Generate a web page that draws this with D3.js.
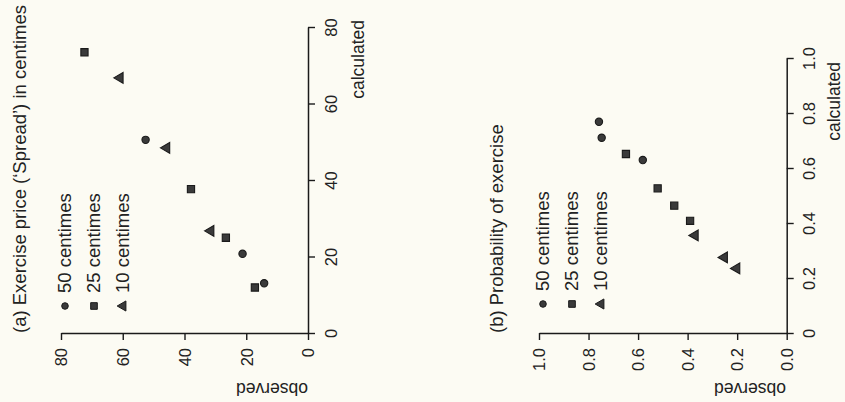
<!DOCTYPE html>
<html><head><meta charset="utf-8">
<script src="https://cdn.jsdelivr.net/npm/d3@7"></script>
<style>
html,body{margin:0;padding:0;background:#fcfbf3;}
svg{display:block;}
text{font-family:"Liberation Sans",Arial,Helvetica,sans-serif;fill:#222;}
</style></head>
<body>
<svg id="chart" width="845" height="402"></svg>
<script>
// ---- data ----
const seriesNames = ["50 centimes", "25 centimes", "10 centimes"];
const symbolsBySeries = ["circle", "square", "triangle"];

// Panel (a): exercise price (spread), observed vs calculated
const spreadObs50 = [52.6, 21.2, 14.2];
const spreadCalc50 = [50.5, 20.7, 13.0];
const spreadObs25 = [72.4, 37.9, 26.6, 17.2];
const spreadCalc25 = [73.4, 37.6, 24.9, 11.9];
const spreadObs10 = [60.9, 45.8, 31.5];
const spreadCalc10 = [66.7, 48.4, 26.7];
const spreadTicks = [0, 20, 40, 60, 80];

// Panel (b): probability of exercise, observed vs calculated
const probObs50 = [0.758, 0.747, 0.581];
const probCalc50 = [0.768, 0.710, 0.629];
const probObs25 = [0.649, 0.521, 0.454, 0.390];
const probCalc25 = [0.651, 0.526, 0.463, 0.408];
const probObs10 = [0.370, 0.252, 0.202];
const probCalc10 = [0.355, 0.275, 0.235];
const probTicks = [0, 0.2, 0.4, 0.6, 0.8, 1.0];

const titles = ["(a) Exercise price (\u2018Spread\u2019) in centimes", "(b) Probability of exercise"];
const xLabel = "calculated";
const yLabel = "observed";

// ---- drawing ----
const svg = d3.select("#chart");
const ink = "#1a1a1a";

const symGen = {
  circle: d3.symbol().type(d3.symbolCircle).size(42),
  square: d3.symbol().type(d3.symbolSquare).size(52),
  triangle: d3.symbol().type(d3.symbolTriangle).size(50)
};

function panel(cfg) {
  const g = svg.append("g");
  // observed runs right-to-left horizontally; calculated runs bottom-to-top
  const xs = d3.scaleLinear().domain(cfg.domain).range([cfg.obsZero, cfg.obsMax]);
  const ys = d3.scaleLinear().domain(cfg.domain).range([cfg.calcZero, cfg.calcMax]);

  // observed axis (bottom)
  const ax = g.append("g").attr("transform", `translate(0,${cfg.calcZero})`)
    .call(d3.axisBottom(xs).tickValues(cfg.ticks).tickSize(7).tickSizeOuter(0).tickFormat(cfg.fmt));
  ax.selectAll("text")
    .attr("x", 0).attr("y", 0).attr("dy", "0.35em")
    .attr("text-anchor", "end")
    .attr("transform", "translate(0,15) rotate(-90)")
    .style("font-size", "16.5px");

  // calculated axis (right)
  const ay = g.append("g").attr("transform", `translate(${cfg.obsZero},0)`)
    .call(d3.axisRight(ys).tickValues(cfg.ticks).tickSize(7).tickSizeOuter(0)
      .tickFormat(d => d === 0 ? "0" : cfg.fmt(d)));
  ay.selectAll("text")
    .attr("x", 0).attr("y", 0).attr("dy", "0.35em")
    .attr("text-anchor", "middle")
    .attr("transform", "translate(23,0) rotate(-90)")
    .style("font-size", "16.5px");

  [ax, ay].forEach(a => {
    a.selectAll("path, line").attr("stroke", ink).attr("stroke-width", 1.4);
    a.select(".domain").attr("stroke-width", 1.5);
    a.attr("font-family", null).attr("font-size", null);
  });

  // axis labels
  g.append("text").text(xLabel)
    .attr("text-anchor", "end").attr("dy", "0.35em")
    .attr("transform", `translate(${cfg.obsZero + cfg.xLabOff},${cfg.calcMax + cfg.xLabDy}) rotate(-90)`)
    .style("font-size", "17.5px");
  g.append("text").text(yLabel)
    .attr("text-anchor", "middle").attr("dy", "0.35em")
    .attr("transform", `translate(${cfg.yLabX},${cfg.calcZero + 56}) rotate(180)`)
    .style("font-size", "17.5px");

  // title
  g.append("text").text(cfg.title)
    .attr("text-anchor", "start").attr("dy", "0.35em")
    .attr("transform", `translate(${cfg.titleX},${cfg.calcZero}) rotate(-90)`)
    .style("font-size", "18.5px");

  // points
  cfg.series.forEach((s, i) => {
    const sym = symbolsBySeries[i];
    s.obs.forEach((o, j) => {
      g.append("path")
        .attr("d", symGen[sym]())
        .attr("transform", `translate(${xs(o)},${ys(s.calc[j])})` + (sym === "triangle" ? " rotate(-90)" : ""))
        .attr("fill", "#3a3a3a").attr("stroke", ink).attr("stroke-width", 1.1);
    });
  });

  // legend
  seriesNames.forEach((name, i) => {
    const lx = cfg.legX + i * 29;
    const sym = symbolsBySeries[i];
    g.append("path")
      .attr("d", d3.symbol().type(sym === "circle" ? d3.symbolCircle : sym === "square" ? d3.symbolSquare : d3.symbolTriangle)
        .size(sym === "circle" ? 34 : 44)())
      .attr("transform", `translate(${lx},${cfg.legSymY})` + (sym === "triangle" ? " rotate(-90)" : ""))
      .attr("fill", "#3a3a3a").attr("stroke", ink).attr("stroke-width", 1);
    g.append("text").text(name)
      .attr("text-anchor", "start").attr("dy", "0.35em")
      .attr("transform", `translate(${lx},${cfg.legSymY - 13}) rotate(-90)`)
      .style("font-size", "18.5px");
  });
}

panel({
  domain: [0, 80], ticks: spreadTicks, fmt: d3.format("d"),
  obsZero: 308, obsMax: 61, calcZero: 333, calcMax: 27,
  xLabOff: 50, xLabDy: -7, yLabX: 272, titleX: 20, legX: 65, legSymY: 306,
  title: titles[0],
  series: [
    {obs: spreadObs50, calc: spreadCalc50},
    {obs: spreadObs25, calc: spreadCalc25},
    {obs: spreadObs10, calc: spreadCalc10}
  ]
});

panel({
  domain: [0, 1], ticks: probTicks, fmt: d3.format(".1f"),
  obsZero: 786.7, obsMax: 539, calcZero: 333, calcMax: 58,
  xLabOff: 47, xLabDy: 4, yLabX: 750, titleX: 497, legX: 543, legSymY: 304,
  title: titles[1],
  series: [
    {obs: probObs50, calc: probCalc50},
    {obs: probObs25, calc: probCalc25},
    {obs: probObs10, calc: probCalc10}
  ]
});
</script>
</body></html>
